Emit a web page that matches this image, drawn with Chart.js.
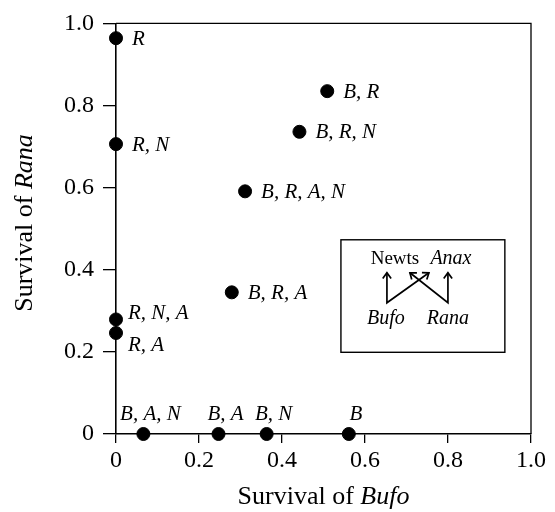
<!DOCTYPE html>
<html>
<head>
<meta charset="utf-8">
<script src="https://cdn.jsdelivr.net/npm/chart.js@4/dist/chart.umd.min.js"></script>
<style>
  html, body { margin: 0; padding: 0; background: #fff; }
  #wrap { width: 555px; height: 512px; }
</style>
</head>
<body>
<div id="wrap"><canvas id="chart" width="555" height="512"></canvas></div>
<script>
// treatment labels (B = Bufo, R = Rana, A = Anax, N = newts)
const treatments = ['R', 'R, N', 'R, N, A', 'R, A', 'B, A, N', 'B, A', 'B, N', 'B', 'B, R, A', 'B, R, A, N', 'B, R, N', 'B, R'];
const bufoSurvival = [0, 0, 0, 0, 0.066, 0.247, 0.363, 0.561, 0.279, 0.311, 0.442, 0.509];
const ranaSurvival = [0.964, 0.706, 0.279, 0.246, 0, 0, 0, 0, 0.345, 0.591, 0.736, 0.835];
const tickValues = [0, 0.2, 0.4, 0.6, 0.8, 1.0];

const SERIF = '"Liberation Serif", "DejaVu Serif", serif';

const fmtTick = v => (Math.abs(v) < 1e-9 ? '0' : v.toFixed(1));

// draws "plain italic" strings in one run
function drawMixed(ctx, parts, x, y, size, align) {
    let total = 0;
    parts.forEach(p => {
        ctx.font = (p.italic ? 'italic ' : '') + size + 'px ' + SERIF;
        p.w = ctx.measureText(p.text).width;
        total += p.w;
    });
    let cx = align === 'center' ? x - total / 2 : x;
    ctx.textAlign = 'left';
    parts.forEach(p => {
        ctx.font = (p.italic ? 'italic ' : '') + size + 'px ' + SERIF;
        ctx.fillText(p.text, cx, y);
        cx += p.w;
    });
}

function arrowHead(ctx, x, y, ang) {
    const len = 7;
    ctx.beginPath();
    ctx.moveTo(x + len * Math.cos(ang + 2.5), y + len * Math.sin(ang + 2.5));
    ctx.lineTo(x, y);
    ctx.lineTo(x + len * Math.cos(ang - 2.5), y + len * Math.sin(ang - 2.5));
    ctx.stroke();
}

const decorPlugin = {
    id: 'decor',
    afterDatasetsDraw(chart) {
        const { ctx, chartArea: a, scales: { x, y } } = chart;
        ctx.save();
        ctx.fillStyle = '#000';
        ctx.strokeStyle = '#000';

        // frame top/right
        ctx.lineWidth = 1.3;
        ctx.beginPath();
        ctx.moveTo(a.left, a.top);
        ctx.lineTo(a.right, a.top);
        ctx.lineTo(a.right, a.bottom);
        ctx.stroke();

        // point labels
        ctx.textBaseline = 'middle';
        ctx.font = 'italic 21px ' + SERIF;
        treatments.forEach((t, i) => {
            const px = x.getPixelForValue(bufoSurvival[i]);
            const py = y.getPixelForValue(ranaSurvival[i]);
            if (ranaSurvival[i] === 0) {
                ctx.textAlign = 'center';
                ctx.fillText(t, px + 7, py - 20);
            } else if (t === 'R, N, A') {
                ctx.textAlign = 'left';
                ctx.fillText(t, px + 12, py - 6);
            } else if (t === 'R, A') {
                ctx.textAlign = 'left';
                ctx.fillText(t, px + 12, py + 12);
            } else {
                ctx.textAlign = 'left';
                ctx.fillText(t, px + 16, py + 1);
            }
        });

        // inset food-web diagram
        const bx0 = x.getPixelForValue(0.542), bx1 = x.getPixelForValue(0.937);
        const by0 = y.getPixelForValue(0.473), by1 = y.getPixelForValue(0.199);
        ctx.lineWidth = 1.4;
        ctx.strokeRect(bx0, by0, bx1 - bx0, by1 - by0);
        ctx.textBaseline = 'alphabetic';
        ctx.textAlign = 'center';
        ctx.font = '19px ' + SERIF;
        ctx.fillText('Newts', bx0 + 54, by0 + 24);
        ctx.font = 'italic 20px ' + SERIF;
        ctx.fillText('Anax', bx0 + 110, by0 + 24);
        ctx.fillText('Bufo', bx0 + 45, by0 + 84);
        ctx.fillText('Rana', bx0 + 107, by0 + 84);

        ctx.lineWidth = 1.7;
        const bX = bx0 + 46, rX = bx0 + 107, baseY = by0 + 63, topY = by0 + 33;
        ctx.beginPath();
        ctx.moveTo(bX, topY); ctx.lineTo(bX, baseY); ctx.lineTo(bx0 + 88, topY);
        ctx.moveTo(rX, topY); ctx.lineTo(rX, baseY); ctx.lineTo(bx0 + 69, topY);
        ctx.stroke();
        arrowHead(ctx, bX, topY, -Math.PI / 2);
        arrowHead(ctx, rX, topY, -Math.PI / 2);
        arrowHead(ctx, bx0 + 88, topY, Math.atan2(topY - baseY, 88 - 46));
        arrowHead(ctx, bx0 + 69, topY, Math.atan2(topY - baseY, 69 - 107));

        // axis titles
        ctx.textBaseline = 'middle';
        drawMixed(ctx, [{ text: 'Survival of ' }, { text: 'Bufo', italic: true }],
            (a.left + a.right) / 2, 497, 26, 'center');
        ctx.translate(25, 223);
        ctx.rotate(-Math.PI / 2);
        drawMixed(ctx, [{ text: 'Survival of ' }, { text: 'Rana', italic: true }],
            0, 0, 26, 'center');
        ctx.restore();
    }
};

const axisCommon = {
    type: 'linear',
    min: 0,
    max: 1,
    afterBuildTicks(axis) { axis.ticks = tickValues.map(v => ({ value: v })); },
    grid: { drawOnChartArea: false, drawTicks: true, color: '#000', lineWidth: 1.3 },
    border: { display: true, color: '#000', width: 1.6 },
    title: { display: false }
};

new Chart(document.getElementById('chart'), {
    type: 'scatter',
    data: {
        datasets: [{
            data: bufoSurvival.map((b, i) => ({ x: b, y: ranaSurvival[i] })),
            backgroundColor: '#000',
            borderColor: '#000',
            pointRadius: 6.5,
            pointHoverRadius: 6.5,
            clip: false
        }]
    },
    options: {
        responsive: false,
        animation: false,
        layout: { padding: { left: 0, top: 22, right: 24, bottom: 0 } },
        plugins: { legend: { display: false }, tooltip: { enabled: false } },
        scales: {
            x: {
                ...axisCommon,
                position: 'bottom',
                grid: { ...axisCommon.grid, tickLength: 9 },
                ticks: { color: '#000', font: { family: SERIF, size: 24 }, padding: 3, callback: fmtTick, maxRotation: 0 },
                afterFit(axis) { axis.height = 78; }
            },
            y: {
                ...axisCommon,
                position: 'left',
                grid: { ...axisCommon.grid, tickLength: 13 },
                ticks: { color: '#000', font: { family: SERIF, size: 24 }, padding: 9, callback: fmtTick },
                afterFit(axis) { axis.width = 116; }
            }
        }
    },
    plugins: [decorPlugin]
});
</script>
</body>
</html>
